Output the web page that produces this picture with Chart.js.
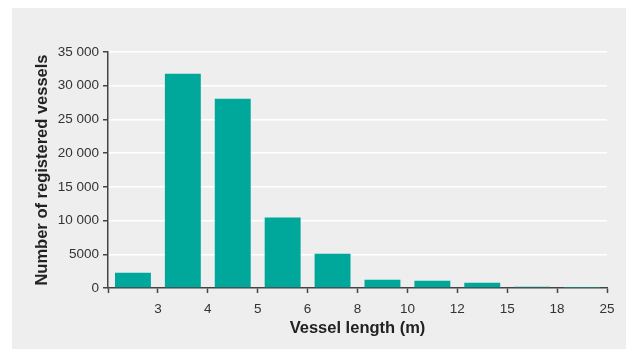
<!DOCTYPE html>
<html>
<head>
<meta charset="utf-8">
<script src="https://cdn.jsdelivr.net/npm/chart.js@4"></script>
<style>
    html, body { margin: 0; padding: 0; background: #ffffff; }
    .panel {
        position: absolute;
        left: 12px;
        top: 8px;
        width: 614px;
        height: 341px;
        background: #eeeeee;
    }
</style>
</head>
<body>
<div class="panel">
    <canvas id="vesselChart"></canvas>
</div>
<script>
// Classi di lunghezza (m) e numero di imbarcazioni registrate
const lengthClasses = ['<3', '3-4', '4-5', '5-6', '6-8', '8-10', '10-12', '12-15', '15-18', '18-25'];
const vesselCounts = [2270, 31780, 28070, 10450, 5090, 1230, 1080, 790, 190, 40];

// Etichette ai confini delle classi (asse x) e dell'asse y
const boundaryLabels = ['', '3', '4', '5', '6', '8', '10', '12', '15', '18', '25'];
const yTickLabels = ['0', '5000', '10 000', '15 000', '20 000', '25 000', '30 000', '35 000'];

const axisColor = '#444444';
const textColor = '#333333';

Chart.defaults.font.family = '"Liberation Sans", Arial, sans-serif';
Chart.defaults.color = textColor;

const canvas = document.getElementById('vesselChart');

new Chart(canvas, {
    type: 'bar',
    data: {
        labels: lengthClasses,
        datasets: [{
            data: vesselCounts,
            backgroundColor: '#00a89c',
            borderWidth: 0,
            categoryPercentage: 1,
            barPercentage: 0.72,
            xAxisID: 'x',
            yAxisID: 'y'
        }]
    },
    options: {
        responsive: true,
        maintainAspectRatio: false,
        animation: false,
        devicePixelRatio: 1,
        layout: {
            padding: { left: 0, right: 19, top: 44, bottom: 0 }
        },
        plugins: {
            legend: { display: false },
            tooltip: { enabled: false }
        },
        scales: {
            x: {
                type: 'category',
                display: false
            },
            // asse lineare usato solo per tacche ed etichette ai confini delle classi
            x2: {
                type: 'linear',
                position: 'bottom',
                offset: false,
                min: 0,
                max: boundaryLabels.length - 1,
                afterFit: function(scale) { scale.height = 61; },
                ticks: {
                    stepSize: 1,
                    autoSkip: false,
                    maxRotation: 0,
                    padding: 8,
                    font: { size: 13.5 },
                    color: textColor,
                    callback: function(value) { return boundaryLabels[value]; }
                },
                grid: {
                    offset: false,
                    drawOnChartArea: false,
                    drawTicks: true,
                    tickLength: 5,
                    tickColor: axisColor,
                    tickWidth: 1.5
                },
                border: { display: true, color: axisColor, width: 1.5 },
                title: {
                    display: true,
                    text: 'Vessel length (m)',
                    color: '#222222',
                    font: { size: 16.5, weight: 'bold' },
                    padding: { top: 0, bottom: 11 }
                }
            },
            y: {
                min: 0,
                max: 35000,
                afterFit: function(scale) { scale.width = 96; },
                ticks: {
                    stepSize: 5000,
                    padding: 4,
                    font: { size: 13.5 },
                    color: textColor,
                    callback: function(value) { return yTickLabels[value / 5000]; }
                },
                grid: {
                    color: function(ctx) { return ctx.tick && ctx.tick.value === 0 ? 'rgba(0,0,0,0)' : '#ffffff'; },
                    lineWidth: 1.5,
                    drawTicks: true,
                    tickLength: 5,
                    tickColor: axisColor,
                    tickWidth: 1.5
                },
                border: { display: true, color: axisColor, width: 1.5 },
                title: {
                    display: true,
                    text: 'Number of registered vessels',
                    color: '#222222',
                    font: { size: 16.5, weight: 'bold' },
                    padding: { top: 21, bottom: 0 }
                }
            }
        }
    }
});
</script>
</body>
</html>
